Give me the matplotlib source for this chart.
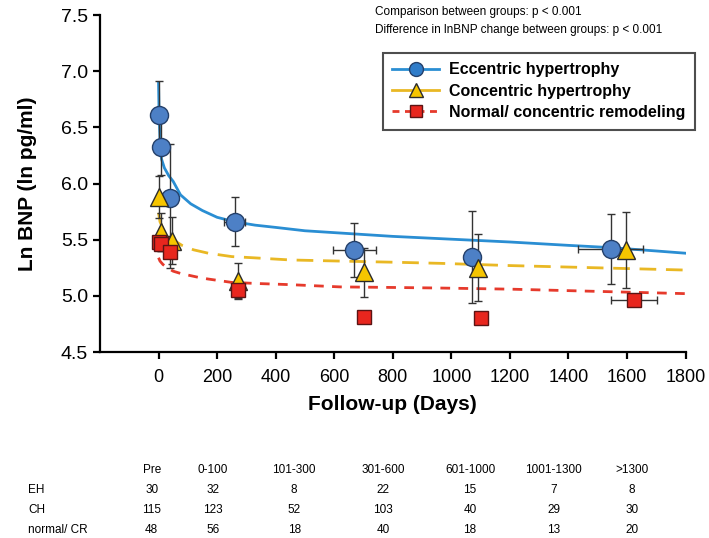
import matplotlib
matplotlib.use("Agg")
import matplotlib.pyplot as plt
from matplotlib.lines import Line2D

plt.rcParams["font.family"] = ["Liberation Sans", "DejaVu Sans"]

# group means (days, ln BNP) with error bars
eh_x = [0, 10, 38, 260, 669, 1072, 1544]
eh_y = [6.61, 6.33, 5.87, 5.66, 5.41, 5.35, 5.42]
eh_yerr = [0.30, 0.25, 0.48, 0.22, 0.24, 0.41, 0.31]
eh_xerr = [0, 0, 0, 35, 73, 0, 110]

ch_x = [0, 7, 45, 273, 700, 1090, 1598]
ch_y = [5.88, 5.57, 5.49, 5.13, 5.21, 5.25, 5.41]
ch_yerr = [0.19, 0.17, 0.21, 0.16, 0.22, 0.30, 0.34]

cr_x = [0, 7, 40, 270, 703, 1100, 1623]
cr_y = [5.48, 5.46, 5.39, 5.05, 4.81, 4.80, 4.96]
cr_yerr = [0.06, 0.06, 0.14, 0.07, 0.03, 0.03, 0.03]
cr_xerr = [0, 0, 0, 0, 0, 0, 78]

# fitted curves
eh_fit_x = [0, 2, 5, 10, 20, 35, 50, 75, 110, 150, 200, 260, 330, 400, 500, 620, 800, 960, 1200, 1400, 1544, 1700, 1800]
eh_fit_y = [6.90, 6.60, 6.40, 6.22, 6.14, 6.07, 6.02, 5.90, 5.82, 5.76, 5.70, 5.66, 5.63, 5.61, 5.58, 5.56, 5.53, 5.51, 5.48, 5.45, 5.43, 5.40, 5.38]
ch_fit_x = [0, 5, 15, 30, 50, 80, 120, 170, 250, 320, 450, 620, 800, 960, 1200, 1500, 1800]
ch_fit_y = [5.74, 5.66, 5.60, 5.55, 5.50, 5.45, 5.41, 5.38, 5.35, 5.34, 5.32, 5.31, 5.30, 5.29, 5.27, 5.25, 5.23]
cr_fit_x = [0, 5, 15, 30, 50, 75, 110, 145, 170, 250, 340, 450, 620, 800, 960, 1200, 1500, 1800]
cr_fit_y = [5.34, 5.31, 5.28, 5.25, 5.22, 5.20, 5.18, 5.16, 5.15, 5.12, 5.11, 5.10, 5.08, 5.075, 5.07, 5.06, 5.04, 5.02]

# patient counts table
periods = ["Pre", "0-100", "101-300", "301-600", "601-1000", "1001-1300", ">1300"]
row_names = ["EH", "CH", "normal/ CR"]
counts = [
    [30, 32, 8, 22, 15, 7, 8],
    [115, 123, 52, 103, 40, 29, 30],
    [48, 56, 18, 40, 18, 13, 20],
]

BLUE_LINE = "#2a8ed3"
BLUE = "#4d80c6"
GOLD_LINE = "#e9b824"
GOLD = "#f6c500"
RED_LINE = "#e63a2c"
RED = "#e8261e"
EDGE = "#2b2b2b"

fig = plt.figure(figsize=(7.09, 5.38), dpi=100)
ax = fig.add_axes([0.141, 0.3457, 0.826, 0.626])

ax.plot(eh_fit_x, eh_fit_y, color=BLUE_LINE, lw=2, zorder=2)
ax.plot(ch_fit_x, ch_fit_y, color=GOLD_LINE, lw=2, dashes=(6, 3.5), zorder=2)
ax.plot(cr_fit_x, cr_fit_y, color=RED_LINE, lw=2, dashes=(3.5, 3), zorder=2)

eb = dict(fmt="none", ecolor="#333333", elinewidth=1, capsize=3, capthick=1, zorder=3)
ax.errorbar(eh_x, eh_y, yerr=eh_yerr, xerr=eh_xerr, **eb)
ax.errorbar(ch_x, ch_y, yerr=ch_yerr, **eb)
ax.errorbar(cr_x, cr_y, yerr=cr_yerr, xerr=cr_xerr, **eb)

ax.plot(eh_x, eh_y, "o", ms=13, mfc=BLUE, mec="#24406a", mew=1, zorder=4)
ax.plot(ch_x, ch_y, "^", ms=13, mfc=GOLD, mec=EDGE, mew=1, zorder=5)
ax.plot(cr_x, cr_y, "s", ms=10.5, mfc=RED, mec="#5a1414", mew=1, zorder=6)

ax.set_xlim(-200, 1800)
ax.set_ylim(4.5, 7.5)
ax.set_xticks(range(0, 1801, 200))
ax.set_yticks([4.5, 5.0, 5.5, 6.0, 6.5, 7.0, 7.5])
ax.set_yticklabels([f"{v:.1f}" for v in ax.get_yticks()])
for s in ["top", "right"]:
    ax.spines[s].set_visible(False)
for s in ["left", "bottom"]:
    ax.spines[s].set_linewidth(1.6)
ax.tick_params(axis="y", labelsize=14, width=1.6, length=5)
ax.tick_params(axis="x", labelsize=13, width=1.6, length=5, pad=7)
ax.set_xlabel("Follow-up (Days)", fontsize=15, fontweight="bold", labelpad=7)
ax.set_ylabel("Ln BNP (ln pg/ml)", fontsize=15, fontweight="bold", labelpad=17)

fig.text(0.529, 0.977, "Comparison between groups: p < 0.001", fontsize=8.5, va="center")
fig.text(0.529, 0.944, "Difference in lnBNP change between groups: p < 0.001", fontsize=8.5, va="center")

handles = [
    Line2D([], [], color=BLUE_LINE, lw=2, marker="o", ms=10, mfc="#2f7cc9", mec="#24406a"),
    Line2D([], [], color=GOLD_LINE, lw=2, marker="^", ms=10, mfc=GOLD, mec=EDGE),
    Line2D([], [], color=RED_LINE, lw=2, ls=(0, (2.5, 2)), marker="s", ms=9, mfc=RED, mec="#5a1414"),
]
labels = ["Eccentric hypertrophy", "Concentric hypertrophy", "Normal/ concentric remodeling"]
leg = fig.legend(handles, labels, loc="upper left", bbox_to_anchor=(0.540, 0.902),
                 prop={"weight": "bold", "size": 11.5}, frameon=True, fancybox=False,
                 edgecolor="#222222", handlelength=2.9, handletextpad=0.65,
                 borderpad=0.6, labelspacing=0.4, borderaxespad=0)
leg.get_frame().set_linewidth(1.5)

# table of counts under the axis
col_x = [0.214, 0.300, 0.415, 0.540, 0.663, 0.781, 0.891]
row_y = [0.126, 0.089, 0.052, 0.015]
for cx, p in zip(col_x, periods):
    fig.text(cx, row_y[0], p, fontsize=8.5, ha="center", va="center")
for i, name in enumerate(row_names):
    fig.text(0.04, row_y[i + 1], name, fontsize=8.5, ha="left", va="center")
    for cx, v in zip(col_x, counts[i]):
        fig.text(cx, row_y[i + 1], str(v), fontsize=8.5, ha="center", va="center")

fig.savefig("out.png", dpi=100)
